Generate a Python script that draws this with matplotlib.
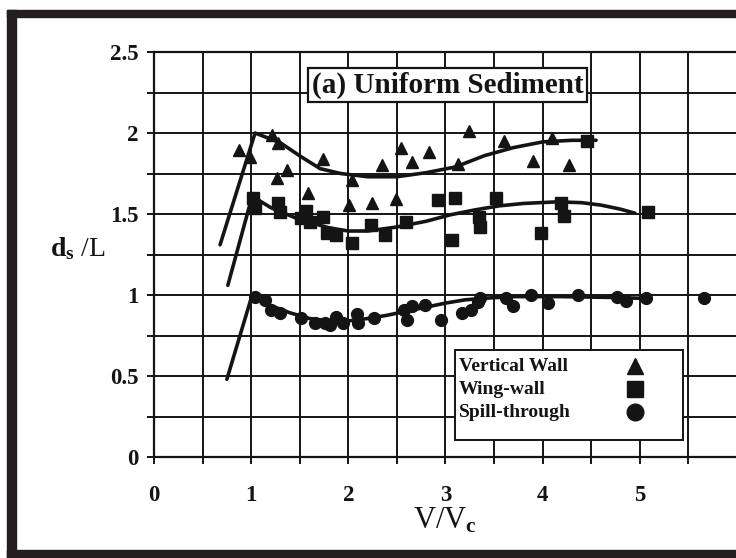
import matplotlib
matplotlib.use("Agg")
import matplotlib.pyplot as plt
from matplotlib.ticker import MultipleLocator
from matplotlib.patches import Rectangle

plt.rcParams['font.family'] = ['Liberation Serif', 'DejaVu Serif']
plt.rcParams['font.weight'] = 'bold'
plt.rcParams['mathtext.fontset'] = 'custom'
plt.rcParams['mathtext.rm'] = 'Liberation Serif:bold'
plt.rcParams['mathtext.it'] = 'Liberation Serif:bold'

ink = '#141414'

# Vertical Wall (triangles)
vw_x = [0.87, 0.99, 1.21, 1.28, 1.37, 1.27, 1.59, 1.74, 2.04, 2.01, 2.24, 2.35, 2.54, 2.66,
        2.83, 2.49, 3.24, 3.60, 3.90, 4.10, 4.27, 3.13]
vw_y = [1.895, 1.85, 1.99, 1.94, 1.77, 1.72, 1.63, 1.84, 1.71, 1.555, 1.57, 1.80, 1.91, 1.82,
        1.88, 1.59, 2.01, 1.95, 1.83, 1.97, 1.80, 1.81]
vw_fit_x = [0.68, 1.04, 1.30, 1.51, 1.71, 1.92, 2.2, 2.5, 2.8, 3.1, 3.4, 3.7, 4.0, 4.3, 4.55]
vw_fit_y = [1.31, 2.0, 1.94, 1.855, 1.78, 1.75, 1.73, 1.73, 1.755, 1.79, 1.86, 1.91, 1.945, 1.955, 1.955]

# Wing-wall (squares)
ww_x = [1.02, 1.04, 1.28, 1.30, 1.51, 1.56, 1.61, 1.74, 1.78, 1.87, 2.04, 2.23, 2.38, 2.59,
        2.92, 3.10, 3.07, 3.34, 3.36, 3.52, 3.98, 4.22, 4.19, 5.08, 4.46]
ww_y = [1.60, 1.54, 1.57, 1.51, 1.475, 1.52, 1.45, 1.48, 1.38, 1.37, 1.32, 1.43, 1.37, 1.45,
        1.585, 1.60, 1.34, 1.48, 1.42, 1.60, 1.38, 1.49, 1.57, 1.51, 1.95]
ww_fit_x = [0.76, 1.01, 1.2, 1.5, 1.8, 2.0, 2.2, 2.5, 2.8, 3.05, 3.3, 3.55, 3.8, 4.15, 4.4, 4.6,
            4.8, 4.95]
ww_fit_y = [1.06, 1.61, 1.54, 1.465, 1.415, 1.395, 1.395, 1.42, 1.455, 1.495, 1.525, 1.55, 1.565,
            1.575, 1.57, 1.555, 1.53, 1.505]

# Spill-through (circles)
st_x = [1.04, 1.14, 1.20, 1.30, 1.51, 1.66, 1.76, 1.81, 1.87, 1.95, 2.09, 2.10, 2.26, 2.57,
        2.60, 2.66, 2.79, 2.95, 3.17, 3.26, 3.33, 3.36, 3.62, 3.70, 3.88, 4.06, 4.36, 4.77,
        4.86, 5.06, 5.66]
st_y = [0.99, 0.97, 0.91, 0.89, 0.86, 0.83, 0.83, 0.815, 0.865, 0.83, 0.88, 0.83, 0.86, 0.91,
        0.845, 0.93, 0.94, 0.845, 0.89, 0.91, 0.955, 0.98, 0.98, 0.93, 1.0, 0.95, 1.0, 0.99,
        0.96, 0.98, 0.98]
st_fit_x = [0.75, 1.01, 1.2, 1.4, 1.6, 1.8, 2.0, 2.2, 2.4, 2.6, 2.8, 3.0, 3.2, 3.4, 3.7, 4.2,
            4.7, 5.0]
st_fit_y = [0.48, 1.0, 0.935, 0.89, 0.855, 0.84, 0.84, 0.855, 0.875, 0.90, 0.925, 0.95, 0.97,
            0.98, 0.99, 0.99, 0.985, 0.98]

legend_labels = ['Vertical Wall', 'Wing-wall', 'Spill-through']
legend_marks = ['^', 's', 'o']

fig = plt.figure(figsize=(7.36, 5.58), dpi=100)
ax = fig.add_axes([154/736, 1 - 457/558, (736 - 154)/736, (457 - 52)/558])

ax.set_xlim(0, 5.99)
ax.set_ylim(0, 2.5)
ax.xaxis.set_minor_locator(MultipleLocator(0.5))
ax.yaxis.set_minor_locator(MultipleLocator(0.25))
ax.set_xticks([0, 1, 2, 3, 4, 5])
ax.set_xticklabels(['0', '1', '2', '3', '4', '5'])
ax.set_yticks([0, 0.5, 1, 1.5, 2, 2.5])
ax.set_yticklabels(['0', '0.5', '1', '1.5', '2', '2.5'])
ax.grid(True, which='both', color=ink, lw=1.4)
ax.set_axisbelow(True)
ax.tick_params(which='both', direction='out', length=5, width=1.4, color=ink,
               labelsize=16.5, labelcolor=ink)
ax.tick_params(axis='y', which='both', pad=6)
ax.tick_params(axis='x', which='both', pad=15)
for s in ['left', 'bottom', 'top']:
    ax.spines[s].set_linewidth(1.6)
    ax.spines[s].set_color(ink)
ax.spines['right'].set_visible(False)

ax.plot(vw_fit_x, vw_fit_y, color=ink, lw=2.6, solid_capstyle='round')
ax.plot(ww_fit_x, ww_fit_y, color=ink, lw=2.6, solid_capstyle='round')
ax.plot(st_fit_x, st_fit_y, color=ink, lw=2.6, solid_capstyle='round')
ax.plot(vw_x, vw_y, '^', color=ink, ms=9, ls='none')
ax.plot(ww_x, ww_y, 's', color=ink, ms=8, ls='none')
ax.plot(st_x, st_y, 'o', color=ink, ms=8.5, ls='none')

ax.text(3.02, 2.295, '(a) Uniform Sediment', ha='center', va='center', fontsize=21,
        color=ink, bbox=dict(boxstyle='square,pad=0.12', fc='white', ec=ink, lw=1.6))

# legend box drawn by hand so text is left aligned and markers sit in one column
ax.add_patch(Rectangle((0.517, 0.042), 0.392, 0.222, transform=ax.transAxes, fc='white',
                       ec=ink, lw=1.4, zorder=5))
for i, (lab, m) in enumerate(zip(legend_labels, legend_marks)):
    yy = 0.224 - i * 0.057
    ax.text(0.524, yy, lab, transform=ax.transAxes, fontsize=14, color=ink, va='center',
            ha='left', zorder=6)
    ax.plot([0.826], [yy], m, transform=ax.transAxes, color=ink, ms=12 if m != 's' else 11,
            zorder=6, clip_on=False)

ax.set_xlabel(r'V/V$_\mathrm{c}$', fontsize=22, color=ink, labelpad=0)
ax.set_ylabel(r'$\mathrm{d_s}$ /L', fontsize=20, color=ink, rotation=0, ha='right', va='center')
ax.yaxis.set_label_coords(-0.083, 0.515)

# scanned page frame
fc = '#231f20'
fig.patches.append(Rectangle((7/736, 0), 9/736, 1 - 10/558, transform=fig.transFigure,
                             color=fc, zorder=10))
fig.patches.append(Rectangle((7/736, 1 - 17/558), 1, 7/558, transform=fig.transFigure,
                             color=fc, zorder=10))
fig.patches.append(Rectangle((7/736, 0), 1, 8/558, transform=fig.transFigure,
                             color=fc, zorder=10))

fig.savefig('out.png', dpi=100)
